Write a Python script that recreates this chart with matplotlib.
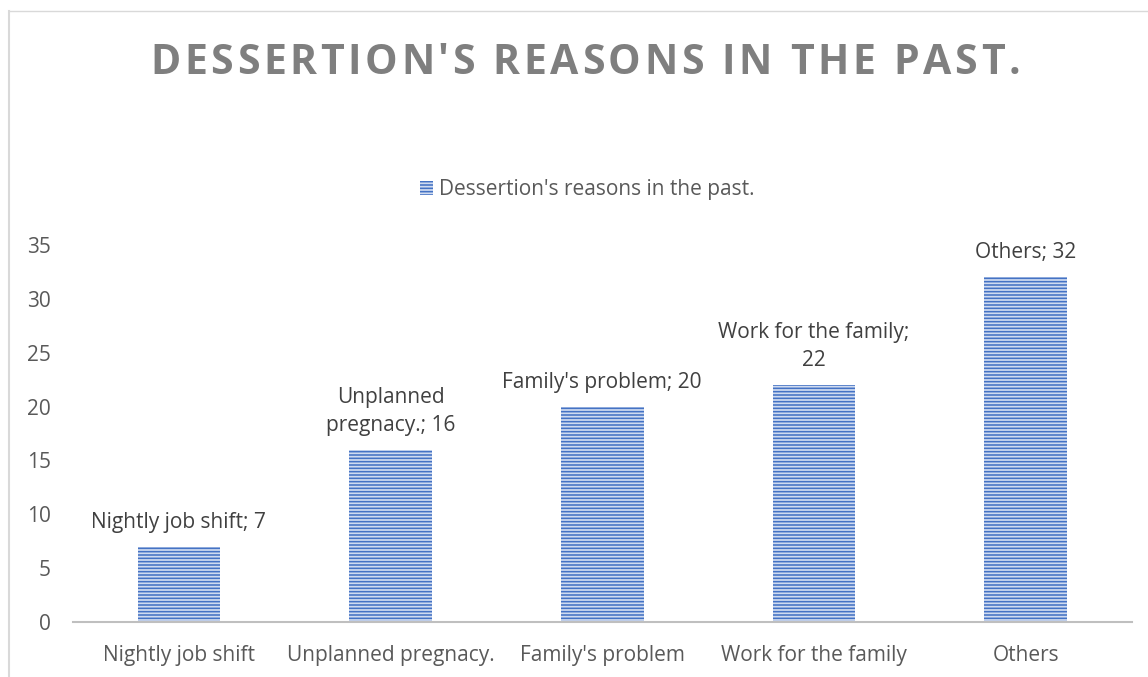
import textwrap
import matplotlib
matplotlib.use("Agg")
import matplotlib.pyplot as plt
from matplotlib.patches import Rectangle

# Data
categories = ["Nightly job shift", "Unplanned pregnacy.", "Family's problem",
              "Work for the family", "Others"]
values = [7, 16, 20, 22, 32]
label_wrap = [30, 13, 30, 20, 30]
series_name = "Dessertion's reasons in the past."
title_text = "DESSERTION'S REASONS IN THE PAST."
y_ticks = [0, 5, 10, 15, 20, 25, 30, 35]

BLUE = "#4472C4"
LIGHT = "#D0DBF0"
TEXT = "#595959"
AXIS = "#BFBFBF"
FS = 15

plt.rcParams["font.family"] = ["Open Sans", "DejaVu Sans"]
plt.rcParams["hatch.linewidth"] = 1.15

W, H = 1148, 677
fig = plt.figure(figsize=(W / 100, H / 100), dpi=100)
ax = fig.add_axes([73 / W, 1 - 622 / H, (1131.5 - 73) / W, (622 - 245) / H])

x = list(range(len(categories)))
bars = ax.bar(x, values, width=0.39, color=LIGHT, edgecolor=BLUE,
              linewidth=0, hatch="-----", label=series_name, zorder=2)

ax.set_xlim(-0.5, len(categories) - 0.5)
ax.set_ylim(0, 35)
ax.set_yticks(y_ticks)
ax.set_xticks(x)
ax.set_xticklabels(categories)
ax.tick_params(axis="both", length=0, labelsize=FS, colors=TEXT)
ax.tick_params(axis="y", pad=16)
ax.tick_params(axis="x", pad=16.5)

for side in ("top", "right", "left"):
    ax.spines[side].set_visible(False)
ax.spines["bottom"].set_color(AXIS)
ax.spines["bottom"].set_linewidth(1.5)

# Data labels
for xi, cat, v, wrap in zip(x, categories, values, label_wrap):
    txt = textwrap.fill(f"{cat}; {v}", wrap)
    ax.annotate(txt, (xi, v), xytext=(0, 10), textcoords="offset points",
                ha="center", va="bottom", fontsize=FS, color="#404040",
                linespacing=1.45)

# Legend
leg = fig.legend(handles=[Rectangle((0, 0), 1, 1, facecolor=LIGHT, edgecolor=BLUE,
                                    linewidth=0, hatch="-----")],
                 labels=[series_name], loc="center",
                 bbox_to_anchor=(587 / W, 1 - 190 / H), frameon=False,
                 fontsize=FS, handlelength=0.65, handleheight=0.65,
                 handletextpad=0.25)
for t in leg.get_texts():
    t.set_color(TEXT)

# Title with tracked letters spanning a fixed width
TFS = 29.5
renderer = fig.canvas.get_renderer()
title_left, title_right, title_y = 150, 1020, 1 - 63 / H
pieces = []
for ch in title_text:
    t = fig.text(0, title_y, ch, fontsize=TFS, fontweight="bold",
                 color="#7F7F7F", ha="left", va="center")
    pieces.append(t)
probe2 = fig.text(0, 0, "A A", fontsize=TFS, fontweight="bold")
probe1 = fig.text(0, 0, "A", fontsize=TFS, fontweight="bold")
space_w = probe2.get_window_extent(renderer).width - 2 * probe1.get_window_extent(renderer).width
probe1.remove()
probe2.remove()
widths = [space_w if ch == " " else t.get_window_extent(renderer).width
          for t, ch in zip(pieces, title_text)]
gap = (title_right - title_left - sum(widths)) / (len(widths) - 1)
pos = title_left
for t, w in zip(pieces, widths):
    t.set_x(pos / W)
    pos += w + gap

# Chart frame lines (top and left edges)
fig.add_artist(plt.Line2D([8.5 / W, 8.5 / W], [0, 1 - 11 / H], color="#D9D9D9",
                          linewidth=1.5, transform=fig.transFigure))
fig.add_artist(plt.Line2D([8.5 / W, 1], [1 - 11 / H, 1 - 11 / H], color="#D9D9D9",
                          linewidth=1.0, transform=fig.transFigure))

fig.savefig("out.png", dpi=100)
